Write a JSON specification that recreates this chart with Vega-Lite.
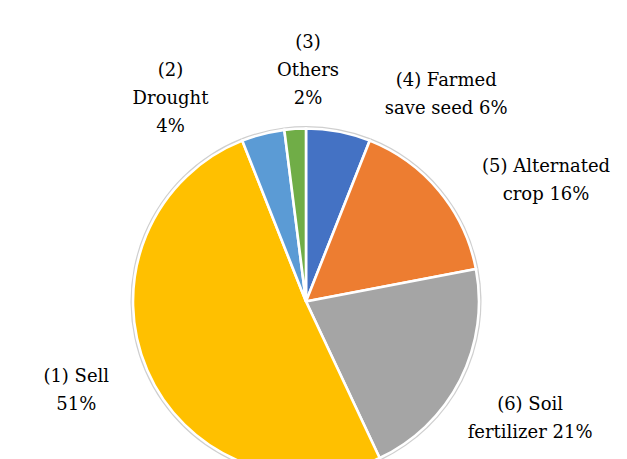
{
  "$schema": "https://vega.github.io/schema/vega-lite/v6.json",
  "width": 612,
  "height": 315,
  "autosize": "none",
  "padding": {"left": 0, "top": 144, "right": 15, "bottom": 0},
  "background": "white",
  "view": {"stroke": null},
  "data": {
    "values": [
      {"category": "Farmed save seed", "value": 6, "label": ["(4) Farmed", "save seed 6%"]},
      {"category": "Alternated crop", "value": 16, "label": ["(5) Alternated", "crop 16%"]},
      {"category": "Soil fertilizer", "value": 21, "label": ["(6) Soil", "fertilizer 21%"]},
      {"category": "Sell", "value": 51, "label": ["(1) Sell", "51%"]},
      {"category": "Drought", "value": 4, "label": ["(2)", "Drought", "4%"]},
      {"category": "Others", "value": 2, "label": ["(3)", "Others", "2%"]}
    ]
  },
  "transform": [{"window": [{"op": "row_number", "as": "idx"}]}],
  "layer": [
    {
      "mark": {"type": "arc", "outerRadius": 175.5, "fill": "#cfcfcf", "stroke": null},
      "encoding": {
        "theta": {"field": "value", "type": "quantitative", "stack": true},
        "order": {"field": "idx", "type": "quantitative"}
      }
    },
    {
      "mark": {"type": "arc", "outerRadius": 173, "stroke": "white", "strokeWidth": 2.6},
      "encoding": {
        "theta": {"field": "value", "type": "quantitative", "stack": true},
        "order": {"field": "idx", "type": "quantitative"},
        "color": {
          "field": "category",
          "type": "nominal",
          "scale": {
            "domain": ["Farmed save seed", "Alternated crop", "Soil fertilizer", "Sell", "Drought", "Others"],
            "range": ["#4472C4", "#ED7D31", "#A5A5A5", "#FFC000", "#5B9BD5", "#70AD47"]
          },
          "legend": null
        }
      }
    },
    {
      "mark": {"type": "text", "font": "DejaVu Serif", "fontSize": 18, "lineHeight": 28, "color": "black"},
      "encoding": {
        "theta": {
          "field": "value",
          "type": "quantitative",
          "stack": true,
          "scale": {"type": "linear", "domain": [3, 14, 32.5, 68.5, 96, 99], "range": [0.567, 1.061, 2.005, 4.393, 5.751, 6.291], "zero": false, "nice": false}
        },
        "radius": {
          "field": "value",
          "type": "quantitative",
          "scale": {"type": "linear", "domain": [2, 4, 6, 16, 21, 51], "range": [259, 267, 261, 275, 247, 242], "zero": false, "nice": false}
        },
        "order": {"field": "idx", "type": "quantitative"},
        "text": {"field": "label"}
      }
    }
  ],
  "resolve": {"scale": {"theta": "independent"}}
}
